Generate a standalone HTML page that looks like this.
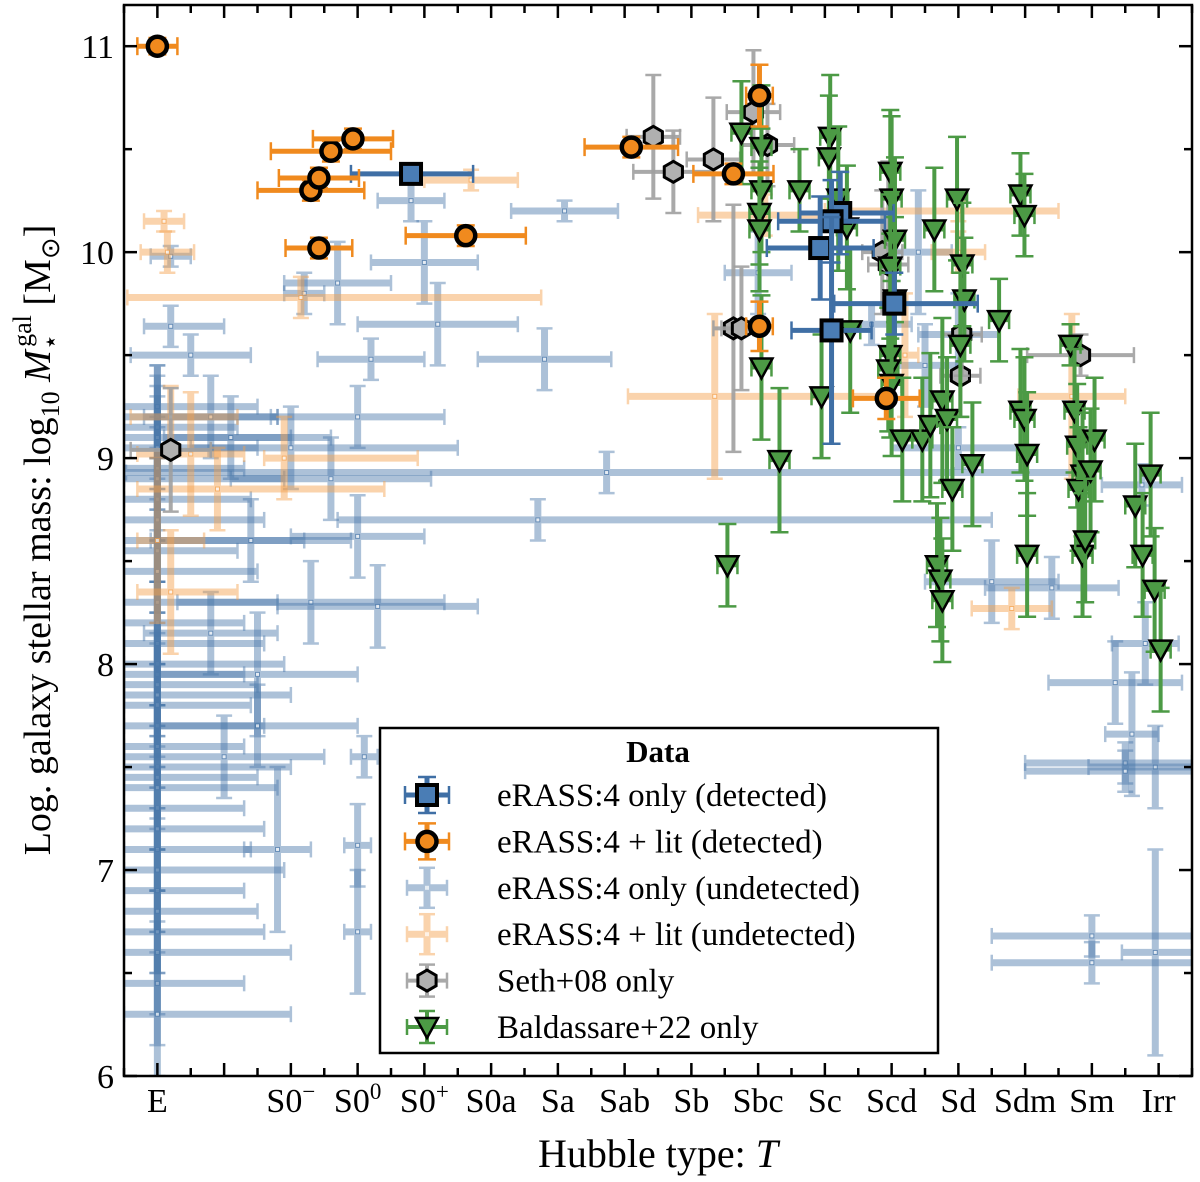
<!DOCTYPE html>
<html><head><meta charset="utf-8"><style>
body{margin:0;background:#fff}
svg{display:block;font-family:"Liberation Serif",serif}
</style></head><body>
<svg id="chart" width="1200" height="1182" viewBox="0 0 1200 1182">
<rect width="1200" height="1182" fill="#fff"/>
<g id="plot"></g>
<rect x="124" y="5" width="1068" height="1071" fill="none" stroke="#000" stroke-width="2.5"/>
<g id="axes"></g>
<text x="658" y="1167" font-size="40" text-anchor="middle">Hubble type: <tspan font-style="italic">T</tspan></text>
<text transform="translate(50,540) rotate(-90)" font-size="38" text-anchor="middle">Log. galaxy stellar mass: log<tspan font-size="26" dy="9">10</tspan><tspan dy="-9"> </tspan><tspan font-style="italic">M</tspan><tspan font-size="26" dy="9">⋆</tspan><tspan font-size="26" dy="-28" dx="-13">gal</tspan><tspan dy="19"> [M</tspan><tspan font-size="26" dy="9">⊙</tspan><tspan dy="-9">]</tspan></text>
<g id="legend">
<rect x="380" y="728" width="558" height="325" fill="#fff" stroke="#000" stroke-width="2.5"/>
<text x="658" y="762" font-size="31" font-weight="bold" text-anchor="middle">Data</text>
</g>
</svg>
<script>
const T_MIN=-5.5,T_MAX=10.5,M_MIN=6,M_MAX=11.2;
const X0=124,X1=1192,Y0=1076,Y1=5;
const xs=t=>X0+(t-T_MIN)/(T_MAX-T_MIN)*(X1-X0);
const ys=m=>Y0-(m-M_MIN)/(M_MAX-M_MIN)*(Y0-Y1);
const NS='http://www.w3.org/2000/svg';
function mk(tag,attrs,parent){const e=document.createElementNS(NS,tag);for(const k in attrs)e.setAttribute(k,attrs[k]);parent.appendChild(e);return e;}

const xTickValues=[-5,-3,-2,-1,0,1,2,3,4,5,6,7,8,9,10];
const xTickLabels=['E','S0−','S00','S0+','S0a','Sa','Sab','Sb','Sbc','Sc','Scd','Sd','Sdm','Sm','Irr'];
const xTickSup=['','−','0','+','','','','','','','','','','',''];
const yTickValues=[6,7,8,9,10,11];
const yTickLabels=['6','7','8','9','10','11'];

// [T, M, exLeft, exRight, ey]
const blueUndetected=[
[-5,9.25,.5,1.5,.2],[-5,9.2,.5,1.8,.2],[-5,9.15,.5,1.2,.3],[-5,9.1,.5,2.0,.2],[-5,9.05,.5,1.5,.3],[-5,8.95,.5,1.3,.2],[-5,8.9,.5,1.9,.3],[-5,8.8,.5,1.4,.2],[-5,8.7,.5,1.6,.3],[-5,8.6,.5,2.2,.2],[-5,8.55,.5,1.2,.3],[-5,8.45,.5,1.5,.2],[-5,8.3,.5,1.8,.3],[-5,8.2,.5,1.3,.2],[-5,8.1,.5,1.6,.3],[-5,8.0,.5,1.9,.2],[-5,7.95,.5,1.3,.3],[-5,7.9,.5,1.5,.2],[-5,7.85,.5,2.0,.3],[-5,7.8,.5,1.4,.2],[-5,7.7,.5,1.6,.3],[-5,7.6,.5,1.3,.2],[-5,7.5,.5,2.0,.3],[-5,7.45,.5,1.5,.2],[-5,7.4,.5,1.8,.3],[-5,7.3,.5,1.3,.2],[-5,7.2,.5,1.6,.3],[-5,7.1,.5,1.4,.2],[-5,7.0,.5,1.9,.3],[-5,6.9,.5,1.3,.2],[-5,6.8,.5,1.5,.3],[-5,6.7,.5,1.6,.2],[-5,6.6,.5,2.0,.3],[-5,6.45,.5,1.3,.3],[-5,6.3,.5,2.0,.3],
[-4.8,9.98,.3,.3,.05],[-4.8,9.64,.4,.8,.1],[-4.5,9.5,.9,.9,.1],[-2.8,9.8,.3,.3,.1],[-2.3,9.85,.8,.8,.2],[-1.0,9.95,.8,.8,.2],[-1.2,10.25,.5,.5,.1],[-0.8,9.65,1.2,1.2,.2],[-1.8,9.48,.8,.8,.1],[-2.0,9.2,1.3,1.3,.15],[-3.0,9.05,1.5,2.5,.2],[-3.9,9.1,1.0,1.5,.2],[-4.2,9.2,1.0,1.0,.2],[-2.4,8.9,1.5,1.5,.2],[-3.6,8.6,1.5,1.5,.2],[-2.0,8.62,1.0,1.0,.2],
[0.8,9.48,1,1,.15],[1.1,10.2,.8,.8,.05],[1.73,8.93,7.2,7.0,.1],[0.7,8.7,3.0,6.8,.1],[-2.7,8.3,2,2,.2],[-1.7,8.28,1.5,1.5,.2],[-4.2,8.15,1,1,.2],[-3.5,7.95,1.5,1.5,.3],[-1.9,7.55,.2,.2,.1],[-3.2,7.1,.5,.5,.4],[-2,6.7,.2,.2,.3],[-2,7.12,.2,.2,.2],[-3.5,7.7,1.5,1.5,.2],[-4,7.55,1.5,1.5,.2],
[7.5,8.4,1,1,.2],[8.4,8.37,1,1,.15],[9.35,7.91,1,1,.2],[9.6,7.66,.4,.4,.3],[9.95,7.5,1,1,.2],[9.95,6.6,.5,.6,.5],[9.75,8.87,.6,.6,.1],[9.8,8.1,.5,.5,.2],[9.5,7.52,1.5,1.0,.1],[9.5,7.48,1.5,1.0,.1],[9.0,6.68,1.5,1.5,.1],[9.0,6.55,1.5,1.5,.1],[5.7,9.65,.6,.6,.1],[4.0,9.9,.5,.5,.2],[6.4,10.0,.5,.5,.3],[7.0,9.05,1,1,.1],[7.0,9.6,.6,.6,.2],[6.5,9.45,.5,.5,.2]
];
const orangeUndetected=[
[-4.9,10.15,.3,.3,.05],[-4.85,10.0,.4,.4,.1],[-2.85,9.78,2.6,3.6,.1],[-0.3,10.35,.7,.7,.05],[-4.8,9.2,.6,1,.15],[-3.1,9.0,.3,2,.2],[-4.1,8.85,1.2,2.5,.2],[-4.8,8.35,.5,1,.3],[-5,8.6,.3,.7,.4],[-4.5,9.02,.8,.8,.3],
[3.35,9.3,1.3,2.5,.4],[7.0,10.2,2,1.5,.05],[7.0,10.0,.4,.4,.1],[8.7,9.3,.8,.8,.4],[7.8,8.27,.6,.6,.1],[6.2,9.5,.2,.2,.3],[4.1,10.18,1,1,.1]
];
const seth=[
[-4.8,9.04,.6,.6,.3],[2.43,10.56,.4,.4,.3],[2.73,10.39,.6,.6,.2],[3.33,10.45,.4,.4,.3],[3.93,10.68,.4,.4,.3],[4.14,10.52,.4,.4,.2],[3.63,9.63,.3,.3,.6],[3.75,9.63,.3,.3,.3],[5.86,10.0,.3,.3,.3],[5.95,9.94,.3,.3,.5],[7.03,9.4,.3,.3,.2],[7.05,9.6,.3,.3,.2],[8.83,9.5,.8,.8,.1]
];
const baldassare=[
[3.75,10.58],[4.05,10.51],[4.05,10.30],[4.02,10.19],[4.02,10.11],[4.05,9.44],[4.62,10.30],[5.08,10.56],[5.06,10.46],[5.2,10.26],[5.33,10.12],[5.38,9.62],[4.95,9.30],[4.32,8.99],[3.54,8.48],[5.98,10.39],[6.0,10.26],[6.05,10.06],[5.98,9.93],[6.05,9.77],[5.98,9.50],[5.95,9.43],[6.0,9.36],[6.16,9.09],[6.46,9.09],[6.58,9.16],[6.64,10.11],[6.76,9.28],[6.83,9.19],[6.98,10.26],[7.06,9.94],[7.09,9.77],[7.03,9.55],[6.91,8.85],[7.21,8.97],[7.61,9.67],[6.68,8.48],[6.73,8.41],[6.76,8.31],[7.93,10.28],[7.99,10.18],[7.93,9.23],[7.99,9.19],[8.03,9.02],[8.03,8.53],[8.68,9.55],[8.74,9.23],[8.78,9.06],[8.86,8.92],[8.8,8.85],[9.04,9.09],[8.98,8.94],[8.86,8.53],[8.9,8.6],[9.65,8.77],[9.76,8.53],[9.88,8.92],[9.94,8.36],[10.03,8.07]
];
const baldassareErr=[.25,.3,.3,.25,.3,.35,.2,.3,.3,.35,.3,.4,.3,.35,.2,.3,.4,.4,.35,.4,.4,.3,.35,.3,.3,.35,.3,.4,.3,.3,.3,.3,.35,.3,.3,.2,.3,.3,.3,.2,.2,.3,.3,.3,.3,.1,.3,.3,.3,.3,.3,.3,.3,.3,.3,.3,.3,.3,.3];
const blueDetected=[[-1.2,10.38,.9,.93,.05],[5.23,10.19,.6,.8,.2],[5.1,10.15,.8,.8,.2],[4.93,10.02,.8,.8,.25],[5.1,9.62,.6,.6,.55],[6.04,9.75,.9,1.25,.15]];
const orangeDetected=[[-5,11.0,.3,.3,.04],[-2.7,10.30,.8,.8,.05],[-2.58,10.36,.6,.6,.05],[-2.4,10.49,.9,.9,.05],[-2.07,10.55,.6,.6,.05],[-2.58,10.02,.5,.5,.05],[-0.38,10.08,.9,.9,.05],[2.1,10.51,.7,.7,.05],[3.63,10.38,.6,.6,.05],[4.02,10.76,.2,.2,.15],[4.02,9.64,.2,.2,.12],[5.92,9.29,.5,.5,.1]];

const plot=document.getElementById('plot');
const clip=mk('clipPath',{id:'cp'},mk('defs',{},plot));
mk('rect',{x:X0,y:Y1,width:X1-X0,height:Y0-Y1},clip);
const g=mk('g',{'clip-path':'url(#cp)'},plot);

function errbar(parent,cx,cy,x0,x1,y0,y1,color,w,op,cap){
  const eb=mk('g',{stroke:color,'stroke-width':w,opacity:op},parent);
  
  
  mk('line',{x1:x0,y1:cy,x2:x1,y2:cy},eb);
  mk('line',{x1:cx,y1:y0,x2:cx,y2:y1},eb);
  const c=cap;
  mk('line',{x1:x0,y1:cy-c,x2:x0,y2:cy+c,'stroke-width':2.5},eb);
  mk('line',{x1:x1,y1:cy-c,x2:x1,y2:cy+c,'stroke-width':2.5},eb);
  mk('line',{x1:cx-c,y1:y0,x2:cx+c,y2:y0,'stroke-width':2.5},eb);
  mk('line',{x1:cx-c,y1:y1,x2:cx+c,y2:y1,'stroke-width':2.5},eb);
}
function undet(arr,color,name){
  arr.forEach(d=>{
    const cx=xs(d[0]),cy=ys(d[1]);
    const pg=mk('g',{},g);
    
    
    errbar(pg,cx,cy,xs(d[0]-d[2]),xs(d[0]+d[3]),ys(d[1]+d[4]),ys(d[1]-d[4]),color,7,0.45,8);
    mk('rect',{x:cx-2,y:cy-2,width:4,height:4,fill:'#fff',stroke:color,'stroke-width':1,opacity:0.7},pg);
  });
}
undet(blueUndetected,'#4a78aa','blue-undetected-point');
undet(orangeUndetected,'#f5a04a','orange-undetected-point');

function hexPath(cx,cy,r){let p='';for(let i=0;i<6;i++){const a=Math.PI/6+i*Math.PI/3;p+=(i?'L':'M')+(cx+r*Math.cos(a))+','+(cy+r*Math.sin(a));}return p+'Z';}
seth.forEach(d=>{
  const cx=xs(d[0]),cy=ys(d[1]);
  const pg=mk('g',{},g);
  
  
  errbar(pg,cx,cy,xs(d[0]-d[2]),xs(d[0]+d[3]),ys(d[1]+d[4]),ys(d[1]-d[4]),'#a0a0a0',4,0.9,8);
  mk('path',{d:hexPath(cx,cy,10.5),fill:'#b0b0b0',stroke:'#000','stroke-width':3},pg);
});
baldassare.forEach((d,i)=>{
  const cx=xs(d[0]),cy=ys(d[1]),e=baldassareErr[i];
  const pg=mk('g',{},g);
  
  
  errbar(pg,cx,cy,xs(d[0]-0.15),xs(d[0]+0.15),ys(d[1]+e),ys(d[1]-e),'#4c9a45',4,1,9);
  mk('path',{d:`M${cx-11},${cy-9}L${cx+11},${cy-9}L${cx},${cy+11}Z`,fill:'#4c9a45',stroke:'#000','stroke-width':2.5},pg);
});
blueDetected.forEach(d=>{
  const cx=xs(d[0]),cy=ys(d[1]);
  const pg=mk('g',{},g);
  
  
  errbar(pg,cx,cy,xs(d[0]-d[2]),xs(d[0]+d[3]),ys(d[1]+d[4]),ys(d[1]-d[4]),'#3f6fa5',5,1,9);
  mk('rect',{x:cx-10,y:cy-10,width:20,height:20,fill:'#4a7db5',stroke:'#000','stroke-width':4},pg);
});
orangeDetected.forEach(d=>{
  const cx=xs(d[0]),cy=ys(d[1]);
  const pg=mk('g',{},g);
  
  
  errbar(pg,cx,cy,xs(d[0]-d[2]),xs(d[0]+d[3]),ys(d[1]+d[4]),ys(d[1]-d[4]),'#f08a1e',5,1,9);
  mk('circle',{cx:cx,cy:cy,r:9.5,fill:'#f08a1e',stroke:'#000','stroke-width':4.5},pg);
});

// axes ticks
const ax=document.getElementById('axes');
for(let t=-5.5;t<=10.5;t+=0.5){
  const x=xs(t),maj=Number.isInteger(t),L=maj?13:8;
  mk('line',{x1:x,y1:Y0,x2:x,y2:Y0-L,stroke:'#000','stroke-width':2.5},ax);
  mk('line',{x1:x,y1:Y1,x2:x,y2:Y1+L,stroke:'#000','stroke-width':2.5},ax);
}
for(let m=6;m<=11.2;m+=0.5){
  const y=ys(m),maj=Math.abs(m-Math.round(m))<1e-6,L=maj?13:8;
  mk('line',{x1:X0,y1:y,x2:X0+L,y2:y,stroke:'#000','stroke-width':2.5},ax);
  mk('line',{x1:X1,y1:y,x2:X1-L,y2:y,stroke:'#000','stroke-width':2.5},ax);
}
xTickValues.forEach((v,i)=>{
  const t=mk('text',{x:xs(v),y:1112,'font-size':34,'text-anchor':'middle'},ax);
  
  
  if(xTickSup[i]){
    t.appendChild(document.createTextNode('S0'));
    const s=mk('tspan',{'font-size':23,dy:-13},t);s.textContent=xTickSup[i];
  } else t.textContent=xTickLabels[i];
});
yTickValues.forEach((v,i)=>{
  const t=mk('text',{x:114,y:ys(v)+12,'font-size':34,'text-anchor':'end'},ax);
  
  
  t.textContent=yTickLabels[i];
});

// legend
const lg=document.getElementById('legend');
const legendLabels=['eRASS:4 only (detected)','eRASS:4 + lit (detected)','eRASS:4 only (undetected)','eRASS:4 + lit (undetected)','Seth+08 only','Baldassare+22 only'];
legendLabels.forEach((lab,i)=>{
  const y=795+i*46.4,cx=427;
  const eg=mk('g',{},lg);
  
  
  if(i===0){errbar(eg,cx,y,cx-22,cx+22,y-18,y+18,'#3f6fa5',5,1,9);mk('rect',{x:cx-10,y:y-10,width:20,height:20,fill:'#4a7db5',stroke:'#000','stroke-width':4},eg);}
  if(i===1){errbar(eg,cx,y,cx-22,cx+22,y-18,y+18,'#f08a1e',5,1,9);mk('circle',{cx:cx,cy:y,r:9.5,fill:'#f08a1e',stroke:'#000','stroke-width':4.5},eg);}
  if(i===2){errbar(eg,cx,y,cx-20,cx+20,y-20,y+20,'#4a78aa',7,0.45,8);mk('rect',{x:cx-2,y:y-2,width:4,height:4,fill:'#fff',opacity:.7},eg);}
  if(i===3){errbar(eg,cx,y,cx-20,cx+20,y-20,y+20,'#f5a04a',7,0.45,8);mk('rect',{x:cx-2,y:y-2,width:4,height:4,fill:'#fff',opacity:.7},eg);}
  if(i===4){errbar(eg,cx,y,cx-20,cx+20,y-16,y+16,'#a0a0a0',4,0.9,8);mk('path',{d:hexPath(cx,y,10.5),fill:'#b0b0b0',stroke:'#000','stroke-width':3},eg);}
  if(i===5){errbar(eg,cx,y,cx-20,cx+20,y-16,y+16,'#4c9a45',4,1,8);mk('path',{d:`M${cx-11},${y-9}L${cx+11},${y-9}L${cx},${y+11}Z`,fill:'#4c9a45',stroke:'#000','stroke-width':2.5},eg);}
  const t=mk('text',{x:497,y:y+11,'font-size':33},eg);
  
  
  t.textContent=lab;
});
</script>
</body></html>
